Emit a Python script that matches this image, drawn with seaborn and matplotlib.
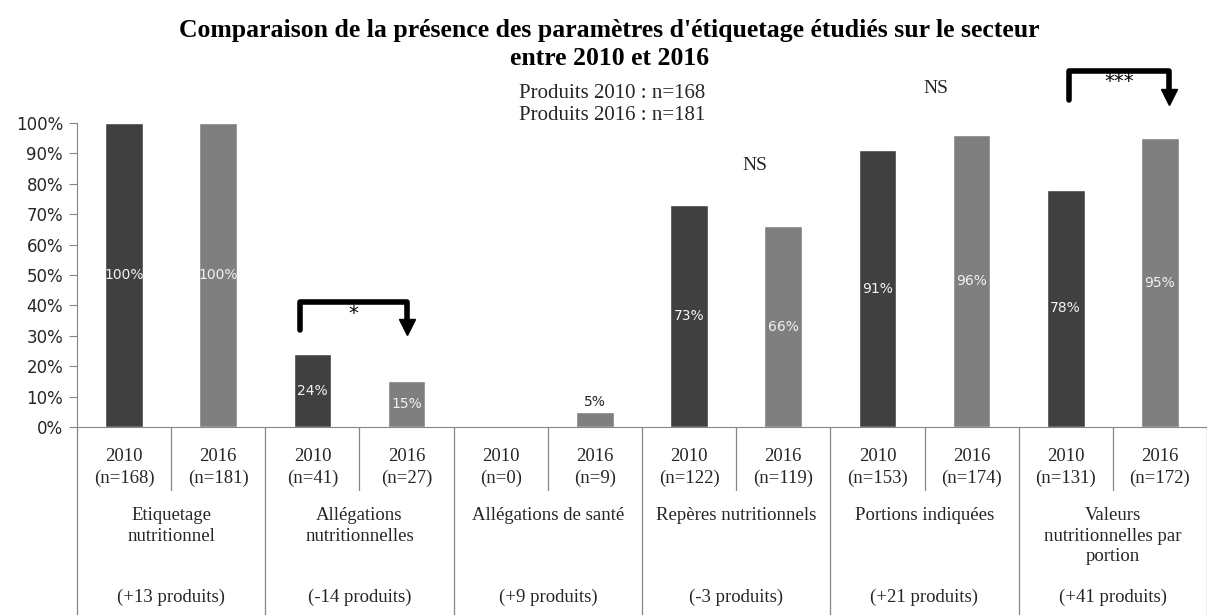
import matplotlib
matplotlib.use("Agg")
import matplotlib.pyplot as plt
import seaborn as sns
import pandas as pd

# Données
categories = ["Etiquetage\nnutritionnel", "Allégations\nnutritionnelles", "Allégations de santé",
              "Repères nutritionnels", "Portions indiquées", "Valeurs\nnutritionnelles par\nportion"]
pct_2010 = [100, 24, 0, 73, 91, 78]
pct_2016 = [100, 15, 5, 66, 96, 95]
n_2010 = [168, 41, 0, 122, 153, 131]
n_2016 = [181, 27, 9, 119, 174, 172]
diff_produits = ["+13", "-14", "+9", "-3", "+21", "+41"]
years = ["2010", "2016"]

rows = []
for i, cat in enumerate(categories):
    rows.append({"slot": f"{i}-2010", "annee": "2010", "pct": pct_2010[i], "n": n_2010[i]})
    rows.append({"slot": f"{i}-2016", "annee": "2016", "pct": pct_2016[i], "n": n_2016[i]})
df = pd.DataFrame(rows)

sns.set_style("white")
serif = ["Liberation Serif", "DejaVu Serif"]
sans = ["DejaVu Sans"]
grey = "#868686"

fig = plt.figure(figsize=(12.07, 6.15), dpi=100)
ax = fig.add_axes([77 / 1207, 1 - 427 / 615, 1130 / 1207, 304 / 615])

sns.barplot(data=df, x="slot", y="pct", hue="annee", palette={"2010": "#404040", "2016": "#7f7f7f"},
            width=0.4, ax=ax, legend=False, saturation=1)

ax.set_xlim(-0.5, len(df) - 0.5)
ax.set_ylim(0, 100)
ax.set_yticks(range(0, 101, 10))
ax.set_yticklabels([f"{v}%" for v in range(0, 101, 10)], fontsize=12, family=sans, color="#262626")
ax.tick_params(axis="y", length=6, color=grey, left=True, pad=4)
ax.set_xticks([])
ax.set_xlabel("")
ax.set_ylabel("")
for s in ["top", "right"]:
    ax.spines[s].set_visible(False)
ax.spines["left"].set_color(grey)
ax.spines["bottom"].set_color(grey)

# étiquettes de valeurs
for i, row in df.iterrows():
    if row["pct"] == 0:
        continue
    if row["pct"] < 10:
        ax.text(i, row["pct"] + 1, f"{row['pct']}%", ha="center", va="bottom",
                fontsize=10, family=sans, color="#262626")
    else:
        ax.text(i, row["pct"] / 2, f"{row['pct']}%", ha="center", va="center",
                fontsize=10, family=sans, color="#f2f2f2")

# axe x hiérarchique
trans = ax.get_xaxis_transform()
for i, row in df.iterrows():
    ax.text(i, -0.132, f"{row['annee']}\n(n={row['n']})", transform=trans, ha="center", va="center",
            fontsize=13.5, family=serif, linespacing=1.35, color="#262626")
for g, cat in enumerate(categories):
    xc = 2 * g + 0.5
    ax.text(xc, -0.262, cat, transform=trans, ha="center", va="top", fontsize=13.5,
            family=serif, linespacing=1.3, color="#262626")
    ax.text(xc, -0.559, f"({diff_produits[g]} produits)", transform=trans, ha="center",
            va="center", fontsize=13.5, family=serif, color="#262626")
    # séparateurs
    ax.plot([2 * g + 0.5] * 2, [0, -0.207], transform=trans, color=grey, lw=0.9, clip_on=False)
    ax.plot([2 * g + 1.5] * 2, [0, -0.62], transform=trans, color=grey, lw=0.9, clip_on=False)
ax.plot([-0.5, -0.5], [0, -0.62], transform=trans, color=grey, lw=0.9, clip_on=False)


def bracket(x1, x2, y_low, y_top, y_tip, label):
    ax.plot([x1, x1, x2, x2], [y_low, y_top, y_top, y_tip + 2], color="black", lw=4,
            solid_joinstyle="round", solid_capstyle="round", clip_on=False)
    ax.plot([x2], [y_tip + 1.5], marker="v", markersize=12, color="black", clip_on=False)
    ax.text((x1 + x2) / 2, y_top - 3.5, label, ha="center", va="center", fontsize=14,
            family=sans, color="black")


bracket(1.87, 3.0, 32, 41, 31.5, "*")
bracket(10.03, 11.1, 107.5, 117, 107, "***")
ax.text(6.7, 86, "NS", ha="center", va="center", fontsize=14, family=serif, color="#262626")
ax.text(8.62, 111.5, "NS", ha="center", va="center", fontsize=14, family=serif, color="#262626")

fig.text(0.505, 0.928, "Comparaison de la présence des paramètres d'étiquetage étudiés sur le secteur\nentre 2010 et 2016",
         ha="center", va="center", fontsize=18.5, fontweight="bold", family=serif, linespacing=1.3,
         color="black")
fig.text(0.507, 0.83, "Produits 2010 : n=168\nProduits 2016 : n=181", ha="center", va="center",
         fontsize=15, family=serif, linespacing=1.25, color="#262626")

fig.savefig("out.png", dpi=100)
